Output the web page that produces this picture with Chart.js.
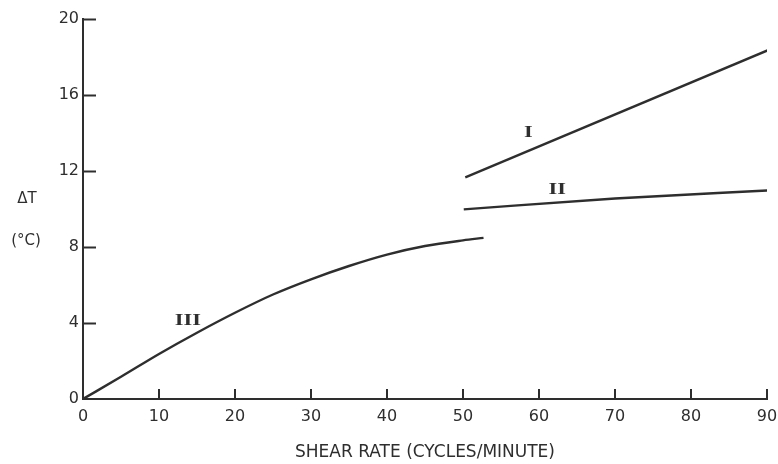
<!DOCTYPE html>
<html><head><meta charset="utf-8">
<script src="https://cdn.jsdelivr.net/npm/chart.js@4/dist/chart.umd.min.js"></script>
<style>html,body{margin:0;padding:0;background:#fff}#wrap{width:778px;height:464px}</style>
</head><body><div id="wrap"><canvas id="c" width="778" height="464"></canvas></div>
<script>
// ---- data ----
const xTicks = [0, 10, 20, 30, 40, 50, 60, 70, 80, 90];
const yTicks = [0, 4, 8, 12, 16, 20];
const curveIIIx = [0, 5, 10, 15, 20, 25, 30, 35, 40, 45, 50, 52.7];
const curveIIIy = [0, 1.17, 2.37, 3.49, 4.54, 5.5, 6.3, 7.0, 7.6, 8.05, 8.35, 8.48];
const lineIx = [50.3, 90.1];
const lineIy = [11.67, 18.35];
const lineIIx = [50.1, 70, 90.3];
const lineIIy = [9.98, 10.55, 10.98];
const curveNames = ['I', 'II', 'III'];
const curveNameX = [58.6, 62.4, 13.8];
const curveNameY = [14.0, 11.0, 4.1];
const xTitle = 'SHEAR RATE (CYCLES/MINUTE)';
const yTitleLines = ['\u0394T', '(\u00B0C)'];

const ink = '#2e2e2e';
const toPts = (xs, ys) => xs.map((x, i) => ({x: x, y: ys[i]}));

const decor = {
  id: 'decor',
  afterDraw(chart) {
    const ctx = chart.ctx, xs = chart.scales.x, ys = chart.scales.y;
    const a = chart.chartArea;
    ctx.save();
    ctx.strokeStyle = ink; ctx.lineWidth = 2;
    // inward tick marks
    yTicks.forEach(v => { if (v === 0) return;
      const py = Math.round(ys.getPixelForValue(v)) + 0.5;
      ctx.beginPath(); ctx.moveTo(a.left, py); ctx.lineTo(a.left + 13, py); ctx.stroke(); });
    xTicks.forEach(v => { if (v === 0) return;
      const px = Math.round(xs.getPixelForValue(v));
      ctx.beginPath(); ctx.moveTo(px, a.bottom); ctx.lineTo(px, a.bottom - 10); ctx.stroke(); });
    // y title (horizontal)
    ctx.fillStyle = ink; ctx.textAlign = 'center'; ctx.textBaseline = 'middle';
    ctx.font = '15px "DejaVu Sans"';
    ctx.fillText(yTitleLines[0], 27, 199);
    ctx.fillText(yTitleLines[1], 26, 241);
    // curve labels (wide serif roman numerals)
    ctx.font = 'bold 16px "Liberation Serif"';
    curveNames.forEach((n, i) => {
      ctx.save();
      ctx.translate(xs.getPixelForValue(curveNameX[i]), ys.getPixelForValue(curveNameY[i]));
      ctx.scale(1.4, 1);
      ctx.fillText(n, 0, 0);
      ctx.restore();
    });
    ctx.restore();
  }
};

new Chart(document.getElementById('c'), {
  type: 'line',
  data: {
    datasets: [
      {label: 'III', data: toPts(curveIIIx, curveIIIy), cubicInterpolationMode: 'monotone'},
      {label: 'I', data: toPts(lineIx, lineIy)},
      {label: 'II', data: toPts(lineIIx, lineIIy), cubicInterpolationMode: 'monotone'}
    ]
  },
  options: {
    responsive: false, animation: false, devicePixelRatio: 1,
    layout: {padding: {top: 19, right: 11, left: 0, bottom: 0}},
    elements: {
      line: {borderColor: ink, borderWidth: 2.4, fill: false},
      point: {radius: 0, hoverRadius: 0}
    },
    plugins: {legend: {display: false}, tooltip: {enabled: false}},
    scales: {
      x: {
        type: 'linear', min: 0, max: 90,
        afterBuildTicks: s => { s.ticks = xTicks.map(v => ({value: v})); },
        afterFit: s => { s.height = 65; s.paddingLeft = 0; s.paddingRight = 0; },
        grid: {display: true, drawOnChartArea: false, drawTicks: false},
        border: {display: true, color: ink, width: 2},
        ticks: {autoSkip: false, maxRotation: 0, padding: 8, color: ink,
                font: {family: 'DejaVu Sans', size: 16}},
        title: {display: true, text: xTitle, color: ink, padding: {top: 0, bottom: 1},
                font: {family: 'DejaVu Sans', size: 17}}
      },
      y: {
        type: 'linear', min: 0, max: 20,
        afterBuildTicks: s => { s.ticks = yTicks.map(v => ({value: v})); },
        afterFit: s => { s.width = 83; s.paddingTop = 0; s.paddingBottom = 0; },
        grid: {display: true, drawOnChartArea: false, drawTicks: false},
        border: {display: true, color: ink, width: 2},
        ticks: {autoSkip: false, padding: 4, color: ink,
                font: {family: 'DejaVu Sans', size: 16}}
      }
    }
  },
  plugins: [decor]
});
</script></body></html>
